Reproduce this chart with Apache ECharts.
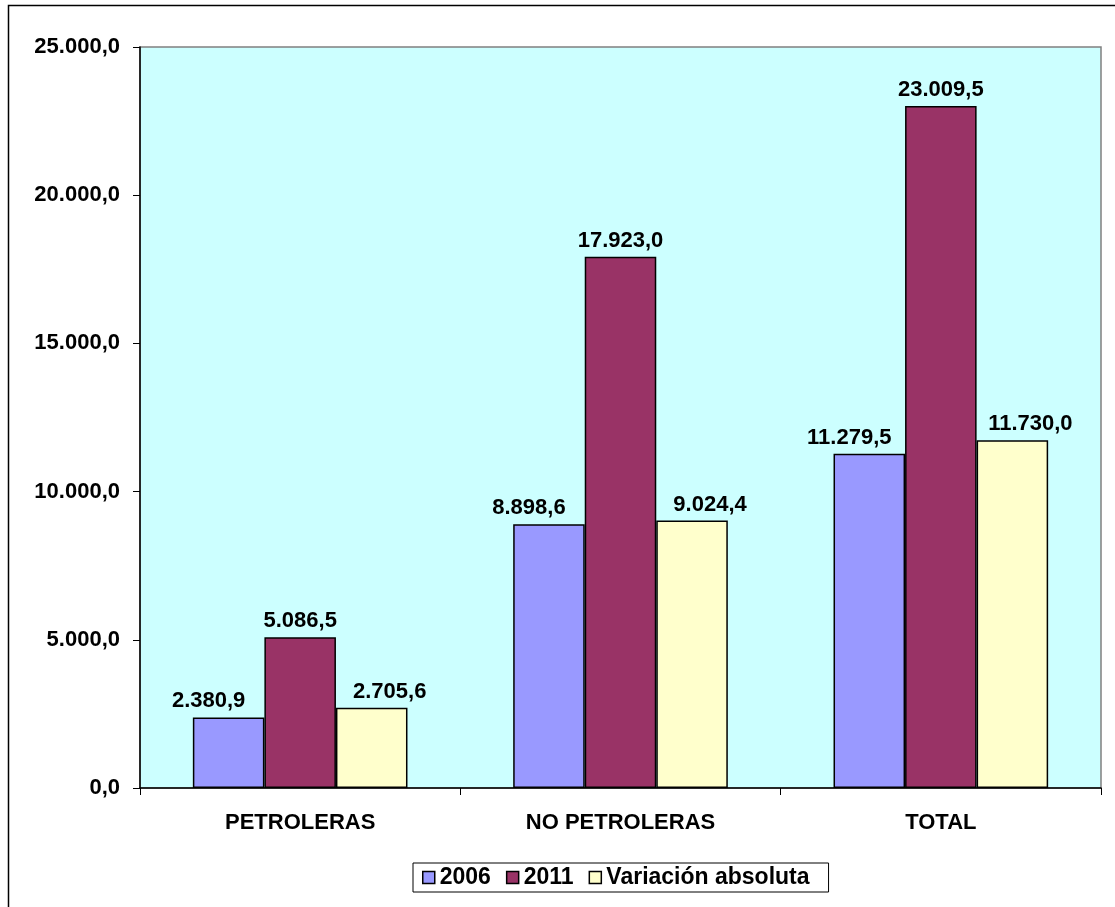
<!DOCTYPE html>
<html><head><meta charset="utf-8">
<script src="https://cdn.jsdelivr.net/npm/echarts@6/dist/echarts.min.js"></script>
<style>html,body{margin:0;padding:0;background:#fff}#c{width:1115px;height:907px}</style>
</head><body><div id="c"></div>
<script>
const categories = ['PETROLERAS', 'NO PETROLERAS', 'TOTAL'];
const seriesNames = ['2006', '2011', 'Variación absoluta'];
const values2006 = [2380.9, 8898.6, 11279.5];
const values2011 = [5086.5, 17923.0, 23009.5];
const valuesVar = [2705.6, 9024.4, 11730.0];
const colors = ['#9999FF', '#993366', '#FFFFCC'];

function fmt(v) {
  const s = v.toFixed(1);
  const [i, d] = s.split('.');
  return i.replace(/\B(?=(\d{3})+(?!\d))/g, '.') + ',' + d;
}
const font = 'Liberation Sans, Arial, sans-serif';
const FS = 22;
const chart = echarts.init(document.getElementById('c'), null, {renderer: 'canvas'});
const mk = (name, data, color, dx) => ({
  name, type: 'bar', data,
  barGap: '0%', barCategoryGap: '33%',
  itemStyle: {color, borderColor: '#000', borderWidth: 1.5},
  label: {show: true, position: 'top', distance: 5, offset: [dx, 0], formatter: p => fmt(p.value),
    fontFamily: font, fontWeight: 'bold', fontSize: FS, color: '#000'}
});
chart.setOption({
  animation: false,
  graphic: [{type: 'rect', shape: {x: 8.5, y: 5.5, width: 1200, height: 1000},
    style: {fill: 'none', stroke: '#000', lineWidth: 1.5}, z: -10}],
  grid: {left: 140, right: 14, top: 47, bottom: 119, show: true,
    backgroundColor: '#CCFFFF', borderColor: '#808080', borderWidth: 1.5},
  legend: {left: 413, top: 863, padding: [3, 19, 3, 9],
    borderColor: '#000', borderWidth: 1, itemWidth: 12, itemHeight: 12, itemGap: 15,
    icon: 'rect', textStyle: {fontFamily: font, fontWeight: 'bold', fontSize: 23, color: '#000'},
    data: seriesNames.map((n, i) => ({name: n, itemStyle: {color: colors[i], borderColor: '#000', borderWidth: 1.5}}))},
  xAxis: {type: 'category', data: categories,
    axisLine: {lineStyle: {color: '#000', width: 1.5}},
    axisTick: {show: true, length: 7, lineStyle: {color: '#000'}, alignWithLabel: false},
    axisLabel: {fontFamily: font, fontWeight: 'bold', fontSize: FS, color: '#000', margin: 24}},
  yAxis: {type: 'value', min: 0, max: 25000, interval: 5000,
    axisLine: {show: true, lineStyle: {color: '#000', width: 1.5}},
    axisTick: {show: true, length: 7, lineStyle: {color: '#000'}},
    splitLine: {show: false},
    axisLabel: {formatter: v => fmt(v), fontFamily: font, fontWeight: 'bold', fontSize: FS, color: '#000', margin: 20}},
  series: [mk(seriesNames[0], values2006, colors[0], -20), mk(seriesNames[1], values2011, colors[1], 0), mk(seriesNames[2], valuesVar, colors[2], 18)]
});
</script></body></html>
